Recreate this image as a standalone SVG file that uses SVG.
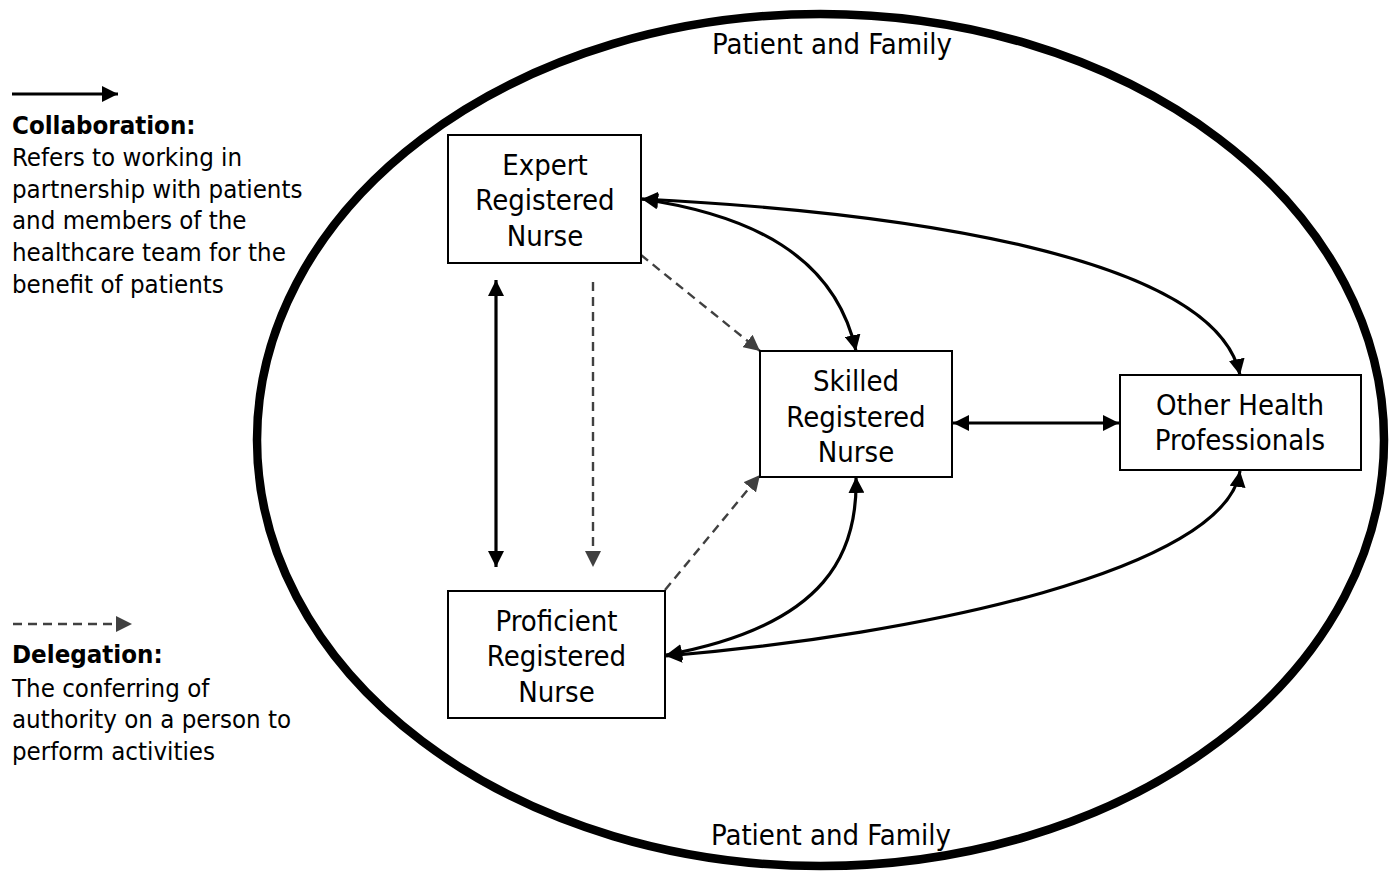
<svg xmlns="http://www.w3.org/2000/svg" width="1395" height="876" viewBox="0 0 1395 876">
<style>
text{font-family:"DejaVu Sans Condensed","DejaVu Sans",sans-serif;font-stretch:condensed;fill:#000}
.n{font-size:29px;text-anchor:middle}
.lg{font-size:25.6px}
.b{font-weight:bold}
.box{fill:#fff;stroke:#000;stroke-width:2}
.sol{fill:none;stroke:#000;stroke-width:3.2}
.dash{fill:none;stroke:#404040;stroke-width:2.4;stroke-dasharray:9 6}
</style>
<defs>
<marker id="ah" markerUnits="userSpaceOnUse" markerWidth="18" markerHeight="16" refX="16" refY="8" orient="auto-start-reverse" viewBox="0 0 18 16"><path d="M0,0 L16,8 L0,16 z" fill="#000"/></marker>
<marker id="ahd" markerUnits="userSpaceOnUse" markerWidth="18" markerHeight="16" refX="16" refY="8" orient="auto" viewBox="0 0 18 16"><path d="M0,0 L16,8 L0,16 z" fill="#404040"/></marker>
</defs>
<rect width="1395" height="876" fill="#fff"/>
<ellipse cx="820.5" cy="440" rx="563.5" ry="426" fill="none" stroke="#000" stroke-width="8.5"/>
<text class="n" x="832" y="54">Patient and Family</text>
<text class="n" x="831" y="845">Patient and Family</text>
<g id="legend">
<line x1="12" y1="94" x2="118" y2="94" class="sol" stroke-width="2.5" marker-end="url(#ah)"/>
<text class="lg b" x="12" y="134">Collaboration:</text>
<text class="lg" x="12" y="166">Refers to working in</text>
<text class="lg" x="12" y="198">partnership with patients</text>
<text class="lg" x="12" y="229">and members of the</text>
<text class="lg" x="12" y="261">healthcare team for the</text>
<text class="lg" x="12" y="293">benefit of patients</text>
<line x1="13" y1="624" x2="132" y2="624" class="dash" marker-end="url(#ahd)"/>
<text class="lg b" x="12" y="663">Delegation:</text>
<text class="lg" x="12" y="697">The conferring of</text>
<text class="lg" x="12" y="728">authority on a person to</text>
<text class="lg" x="12" y="760">perform activities</text>
</g>
<g id="connectors">
<line x1="496" y1="280" x2="496" y2="567" class="sol" marker-start="url(#ah)" marker-end="url(#ah)"/>
<line x1="593" y1="282" x2="593" y2="567" class="dash" marker-end="url(#ahd)"/>
<line x1="641" y1="255" x2="760" y2="351" class="dash" marker-end="url(#ahd)"/>
<line x1="665" y1="590" x2="760" y2="475" class="dash" marker-end="url(#ahd)"/>
<path d="M642,199 C750,215 835,255 856,351" class="sol" marker-start="url(#ah)" marker-end="url(#ah)"/>
<path d="M642,199 C900,212 1215,255 1240,375" class="sol" marker-start="url(#ah)" marker-end="url(#ah)"/>
<line x1="953" y1="423" x2="1119" y2="423" class="sol" stroke-width="4" marker-start="url(#ah)" marker-end="url(#ah)"/>
<path d="M856,477 C858,550 830,625 666,655" class="sol" marker-start="url(#ah)" marker-end="url(#ah)"/>
<path d="M1240,471 C1225,570 920,635 666,656" class="sol" marker-start="url(#ah)" marker-end="url(#ah)"/>
</g>
<g id="expert">
<rect class="box" x="448" y="135" width="193" height="128"/>
<text class="n" x="545" y="175">Expert</text>
<text class="n" x="545" y="210">Registered</text>
<text class="n" x="545" y="246">Nurse</text>
</g>
<g id="proficient">
<rect class="box" x="448" y="591" width="217" height="127"/>
<text class="n" x="556.5" y="631">Proficient</text>
<text class="n" x="556.5" y="666">Registered</text>
<text class="n" x="556.5" y="702">Nurse</text>
</g>
<g id="skilled">
<rect class="box" x="760" y="351" width="192" height="126"/>
<text class="n" x="856" y="391">Skilled</text>
<text class="n" x="856" y="427">Registered</text>
<text class="n" x="856" y="462">Nurse</text>
</g>
<g id="other">
<rect class="box" x="1120" y="375" width="241" height="95"/>
<text class="n" x="1240" y="415">Other Health</text>
<text class="n" x="1240" y="450">Professionals</text>
</g>
</svg>
